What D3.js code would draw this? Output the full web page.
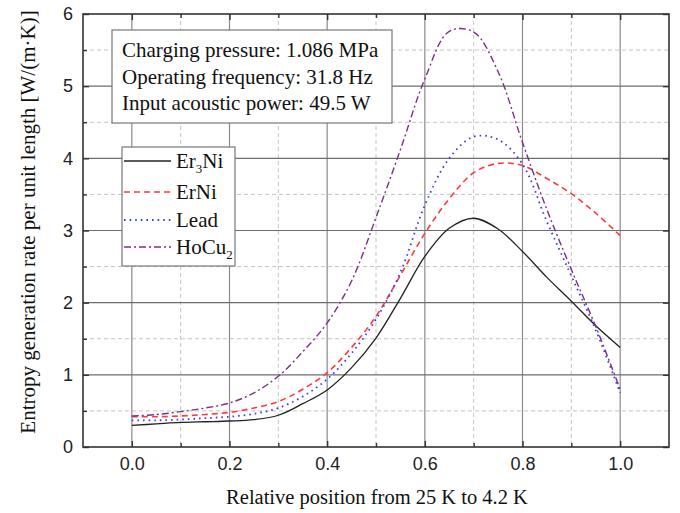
<!DOCTYPE html>
<html lang="en">
<head>
<meta charset="UTF-8">
<title>Entropy generation rate</title>
<script src="https://d3js.org/d3.v7.min.js"></script>
<style>
  body { margin: 0; padding: 0; background: #ffffff; }
  svg { display: block; }
  .tick-label { font-family: "Liberation Sans", Arial, sans-serif; font-size: 18px; fill: #222; }
  .serif { font-family: "Liberation Serif", "Times New Roman", serif; fill: #111; }
</style>
</head>
<body>
<div id="chart"></div>
<script>
  // relative position (x) and the four materials
  const positions = [0, 0.05, 0.1, 0.15, 0.2, 0.25, 0.3, 0.35, 0.4, 0.45, 0.5, 0.55, 0.6, 0.65, 0.7, 0.75, 0.8, 0.85, 0.9, 0.95, 1.0];
  const er3ni = [0.30, 0.32, 0.34, 0.35, 0.36, 0.38, 0.44, 0.60, 0.79, 1.10, 1.51, 2.06, 2.64, 3.03, 3.17, 3.02, 2.71, 2.35, 2.02, 1.68, 1.38];
  const erni  = [0.42, 0.42, 0.43, 0.45, 0.48, 0.54, 0.63, 0.80, 1.03, 1.38, 1.81, 2.38, 2.96, 3.44, 3.80, 3.93, 3.90, 3.72, 3.51, 3.24, 2.93];
  const lead  = [0.37, 0.37, 0.38, 0.40, 0.42, 0.46, 0.54, 0.70, 0.94, 1.30, 1.77, 2.42, 3.35, 4.00, 4.30, 4.26, 3.92, 3.12, 2.37, 1.62, 0.75];
  const hocu2 = [0.43, 0.45, 0.49, 0.54, 0.61, 0.75, 0.98, 1.32, 1.72, 2.30, 3.18, 4.12, 5.10, 5.76, 5.75, 5.20, 4.22, 3.29, 2.46, 1.67, 0.80];

  const xMajor = [0, 0.2, 0.4, 0.6, 0.8, 1.0];
  const xMinor = [0.1, 0.3, 0.5, 0.7, 0.9];
  const yMajor = [0, 1, 2, 3, 4, 5, 6];
  const yMinor = [0.5, 1.5, 2.5, 3.5, 4.5, 5.5];

  const infoLines = ["Charging pressure: 1.086 MPa", "Operating frequency: 31.8 Hz", "Input acoustic power: 49.5 W"];

  const series = [
    { name: "Er", sub: "3", tail: "Ni", values: er3ni, color: "#222222", dash: null, width: 1.3 },
    { name: "ErNi", sub: "", tail: "", values: erni, color: "#ff3b3b", dash: "6,4", width: 1.6 },
    { name: "Lead", sub: "", tail: "", values: lead, color: "#3a3aff", dash: "1.6,4", width: 1.8 },
    { name: "HoCu", sub: "2", tail: "", values: hocu2, color: "#7b2f86", dash: "7,3,2,3", width: 1.4 }
  ];

  const W = 680, H = 513;
  const plotL = 83, plotR = 669, plotT = 14, plotB = 447;

  const svg = d3.select("#chart").append("svg").attr("width", W).attr("height", H);

  const x = d3.scaleLinear().domain([-0.1, 1.1]).range([plotL, plotR]);
  const y = d3.scaleLinear().domain([0, 6]).range([plotB, plotT]);

  // grid: minor dashed, major solid
  const grid = svg.append("g");
  grid.selectAll(".vminor").data(xMinor).enter().append("line")
    .attr("x1", d => x(d)).attr("x2", d => x(d)).attr("y1", plotT).attr("y2", plotB)
    .attr("stroke", "#c4c4c4").attr("stroke-dasharray", "4,3");
  grid.selectAll(".hminor").data(yMinor).enter().append("line")
    .attr("y1", d => y(d)).attr("y2", d => y(d)).attr("x1", plotL).attr("x2", plotR)
    .attr("stroke", "#c4c4c4").attr("stroke-dasharray", "4,3");
  grid.selectAll(".vmajor").data(xMajor).enter().append("line")
    .attr("x1", d => x(d)).attr("x2", d => x(d)).attr("y1", plotT).attr("y2", plotB)
    .attr("stroke", "#8a8a8a").attr("stroke-width", 1.2);
  grid.selectAll(".hmajor").data(yMajor.slice(1, -1)).enter().append("line")
    .attr("y1", d => y(d)).attr("y2", d => y(d)).attr("x1", plotL).attr("x2", plotR)
    .attr("stroke", "#6e6e6e").attr("stroke-width", 1.2);

  // axes with inward ticks
  function styleAxis(g) {
    g.select(".domain").remove();
    g.selectAll(".tick line").attr("stroke", "#333").attr("stroke-width", 1.4);
    g.selectAll("text").attr("class", "tick-label");
  }
  svg.append("g").attr("transform", `translate(0,${plotB})`)
    .call(d3.axisBottom(x).tickValues(xMajor).tickFormat(d3.format(".1f")).tickSizeInner(-6).tickSizeOuter(0).tickPadding(10))
    .call(styleAxis);
  svg.append("g").attr("transform", `translate(0,${plotB})`)
    .call(d3.axisBottom(x).tickValues(xMinor).tickFormat("").tickSizeInner(-4).tickSizeOuter(0))
    .call(styleAxis);
  svg.append("g").attr("transform", `translate(0,${plotT})`)
    .call(d3.axisTop(x).tickValues(xMajor).tickFormat("").tickSizeInner(-6).tickSizeOuter(0))
    .call(styleAxis);
  svg.append("g").attr("transform", `translate(0,${plotT})`)
    .call(d3.axisTop(x).tickValues(xMinor).tickFormat("").tickSizeInner(-4).tickSizeOuter(0))
    .call(styleAxis);
  svg.append("g").attr("transform", `translate(${plotL},0)`)
    .call(d3.axisLeft(y).tickValues(yMajor).tickFormat(d3.format("d")).tickSizeInner(-6).tickSizeOuter(0).tickPadding(10))
    .call(styleAxis);
  svg.append("g").attr("transform", `translate(${plotL},0)`)
    .call(d3.axisLeft(y).tickValues(yMinor).tickFormat("").tickSizeInner(-4).tickSizeOuter(0))
    .call(styleAxis);
  svg.append("g").attr("transform", `translate(${plotR},0)`)
    .call(d3.axisRight(y).tickValues(yMajor).tickFormat("").tickSizeInner(-6).tickSizeOuter(0))
    .call(styleAxis);

  // curves
  const line = d3.line()
    .x((d, i) => x(positions[i]))
    .y(d => y(d))
    .curve(d3.curveCatmullRom);

  svg.append("g").selectAll("path").data(series).enter().append("path")
    .attr("d", d => line(d.values))
    .attr("fill", "none")
    .attr("stroke", d => d.color)
    .attr("stroke-width", d => d.width)
    .attr("stroke-dasharray", d => d.dash);

  // frame
  svg.append("rect").attr("x", plotL).attr("y", plotT)
    .attr("width", plotR - plotL).attr("height", plotB - plotT)
    .attr("fill", "none").attr("stroke", "#333").attr("stroke-width", 1.6);

  // info box
  const info = svg.append("g");
  info.append("rect").attr("x", 112).attr("y", 30).attr("width", 280).attr("height", 93)
    .attr("fill", "#fff").attr("stroke", "#777").attr("stroke-width", 1.2);
  info.selectAll("text").data(infoLines).enter().append("text")
    .attr("class", "serif")
    .attr("x", 122).attr("y", (d, i) => 57 + i * 26.5)
    .attr("font-size", 21)
    .text(d => d);

  // legend
  const legend = svg.append("g");
  legend.append("rect").attr("x", 122).attr("y", 147).attr("width", 113).attr("height", 119)
    .attr("fill", "#fff").attr("stroke", "#777").attr("stroke-width", 1.2);
  const rowY = [161, 192, 220, 247];
  const item = legend.selectAll(".item").data(series).enter().append("g")
    .attr("transform", (d, i) => `translate(0,${rowY[i]})`);
  item.append("line").attr("x1", 124).attr("x2", 171).attr("y1", 0).attr("y2", 0)
    .attr("stroke", d => d.color).attr("stroke-width", d => d.width).attr("stroke-dasharray", d => d.dash);
  const label = item.append("text").attr("class", "serif").attr("x", 176).attr("y", 7).attr("font-size", 21);
  label.append("tspan").text(d => d.name);
  label.append("tspan").attr("dy", 5).attr("font-size", 13).text(d => d.sub);
  label.append("tspan").attr("dy", d => d.sub ? -5 : 0).text(d => d.tail);

  // axis titles
  svg.append("text").attr("class", "serif")
    .attr("x", (plotL + plotR) / 2 + 1).attr("y", 504)
    .attr("text-anchor", "middle").attr("font-size", 20.5)
    .text("Relative position from 25 K to 4.2 K");
  svg.append("text").attr("class", "serif")
    .attr("transform", "translate(35,222) rotate(-90)")
    .attr("text-anchor", "middle").attr("font-size", 21)
    .text("Entropy generation rate per unit length [W/(m·K)]");
</script>
</body>
</html>
